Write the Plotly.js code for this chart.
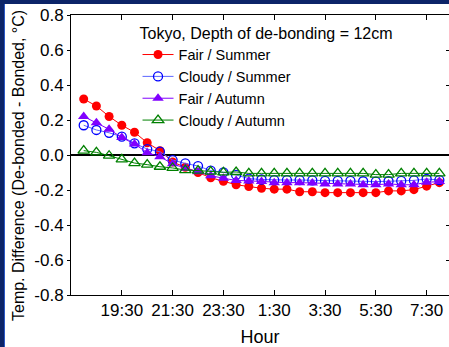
<!DOCTYPE html>
<html>
<head>
<meta charset="utf-8">
<script src="https://cdn.plot.ly/plotly-3.0.1.min.js"></script>
<style>
  html, body { margin: 0; padding: 0; background: #ffffff; }
  #chart { width: 449px; height: 347px; position: absolute; left: 0; top: 0; }
  #frameTop { position: absolute; left: 0; top: 0; width: 449px; height: 4px; background: #0c2468; pointer-events: none; }
  #frameLeft { position: absolute; left: 0; top: 0; width: 4px; height: 347px; background: #0c2468; pointer-events: none; }
  #frameLeft2 { position: absolute; left: 4px; top: 4px; width: 1px; height: 343px; background: #2a58c8; pointer-events: none; }
</style>
</head>
<body>
<div id="chart"></div>
<div id="frameTop"></div>
<div id="frameLeft"></div>
<div id="frameLeft2"></div>
<script>
// Half-hourly observation times (18:00 -> 8:00)
var times = ["18:00","18:30","19:00","19:30","20:00","20:30","21:00","21:30","22:00","22:30",
             "23:00","23:30","0:00","0:30","1:00","1:30","2:00","2:30","3:00","3:30",
             "4:00","4:30","5:00","5:30","6:00","6:30","7:00","7:30","8:00"];

var fairSummer = [0.32,0.28,0.22,0.17,0.13,0.07,0.025,-0.04,-0.07,-0.10,
                  -0.13,-0.15,-0.17,-0.18,-0.19,-0.195,-0.195,-0.21,-0.21,-0.215,
                  -0.215,-0.215,-0.215,-0.215,-0.205,-0.205,-0.198,-0.178,-0.158];

var cloudySummer = [0.17,0.143,0.127,0.105,0.067,0.034,0.019,-0.029,-0.048,-0.063,
                    -0.089,-0.099,-0.114,-0.135,-0.14,-0.143,-0.143,-0.143,-0.145,-0.148,
                    -0.148,-0.148,-0.15,-0.152,-0.15,-0.148,-0.145,-0.137,-0.143];

var fairAutumn = [0.22,0.185,0.147,0.10,0.063,0.013,-0.01,-0.05,-0.076,-0.095,
                  -0.118,-0.133,-0.145,-0.148,-0.152,-0.158,-0.158,-0.158,-0.16,-0.165,
                  -0.165,-0.165,-0.17,-0.17,-0.165,-0.17,-0.17,-0.156,-0.152];

var cloudyAutumn = [0.025,0.015,-0.004,-0.025,-0.046,-0.055,-0.067,-0.074,-0.086,-0.089,
                    -0.095,-0.099,-0.097,-0.105,-0.105,-0.105,-0.105,-0.105,-0.105,-0.105,
                    -0.105,-0.105,-0.105,-0.112,-0.112,-0.105,-0.105,-0.105,-0.105];

var xTickLabels = ["19:30","21:30","23:30","1:30","3:30","5:30","7:30"];
var yTickVals = [-0.8,-0.6,-0.4,-0.2,0,0.2,0.4,0.6,0.8];
var yTickText = ["-0.8","-0.6","-0.4","-0.2","0.0","0.2","0.4","0.6","0.8"];

var FONT = '"Liberation Sans", Arial, sans-serif';

var traces = [
  { x: times, y: fairSummer, name: "Fair / Summer", mode: "lines+markers",
    line: { color: "#ff0000", width: 1 },
    marker: { symbol: "circle", size: 9, color: "#ff0000" } },
  { x: times, y: cloudySummer, name: "Cloudy / Summer", mode: "lines+markers",
    line: { color: "#5c66ff", width: 1 },
    marker: { symbol: "circle-open", size: 9, color: "#0000ff", line: { width: 1.3 } } },
  { x: times, y: fairAutumn, name: "Fair / Autumn", mode: "lines+markers",
    line: { color: "#8000ff", width: 1 },
    marker: { symbol: "triangle-up", size: 10, color: "#8000ff" } },
  { x: times, y: cloudyAutumn, name: "Cloudy / Autumn", mode: "lines+markers",
    line: { color: "#008000", width: 1 },
    marker: { symbol: "triangle-up-open", size: 10, color: "#008000", line: { width: 1.3 } } },
  { x: times, y: cloudyAutumn, yaxis: "y2", mode: "none", showlegend: false, hoverinfo: "skip" }
];

var layout = {
  width: 449, height: 347,
  margin: { l: 71, r: 0, t: 15, b: 52 },
  paper_bgcolor: "#ffffff", plot_bgcolor: "#ffffff",
  font: { family: FONT, color: "#000000", size: 16 },
  showlegend: true,
  xaxis: {
    type: "category",
    categoryorder: "array", categoryarray: times,
    range: [-1, 28.76],
    tickmode: "array", tickvals: xTickLabels, ticktext: xTickLabels,
    ticks: "inside", ticklen: 5, tickwidth: 1, tickcolor: "#000",
    showline: true, linecolor: "#000", linewidth: 1, mirror: "ticks",
    showgrid: false, zeroline: false,
    tickfont: { size: 17, family: FONT },
    title: { text: "Hour", font: { size: 18, family: FONT }, standoff: 10 }
  },
  yaxis: {
    range: [-0.8, 0.8],
    tickmode: "array", tickvals: yTickVals, ticktext: yTickText,
    ticks: "outside", ticklen: 3, tickwidth: 1, tickcolor: "#000",
    showline: true, linecolor: "#000", linewidth: 1, mirror: false,
    showgrid: false,
    zeroline: true, zerolinecolor: "#000", zerolinewidth: 2,
    tickfont: { size: 17, family: FONT }
  },
  yaxis2: {
    overlaying: "y", side: "right", range: [-0.8, 0.8],
    tickmode: "array", tickvals: yTickVals,
    ticks: "inside", ticklen: 3, tickwidth: 1, tickcolor: "#000",
    showticklabels: false, showline: false, showgrid: false, zeroline: false
  },
  legend: {
    x: 0.176, y: 0.99, xanchor: "left", yanchor: "top",
    bgcolor: "rgba(0,0,0,0)", borderwidth: 0,
    font: { size: 14.5, family: FONT },
    itemwidth: 31,
    title: { text: "Tokyo, Depth of de-bonding = 12cm", font: { size: 16, family: FONT } },
    tracegroupgap: 0
  },
  annotations: [{
    text: "Temp. Difference (De-bonded - Bonded, °C)",
    xref: "paper", yref: "paper",
    x: (18 - 71) / 378, y: (295 - 166) / 280,
    xanchor: "center", yanchor: "middle",
    textangle: -90, showarrow: false,
    font: { size: 16, family: FONT }
  }]
};

Plotly.newPlot("chart", traces, layout, { displayModeBar: false, staticPlot: true });
</script>
</body>
</html>
